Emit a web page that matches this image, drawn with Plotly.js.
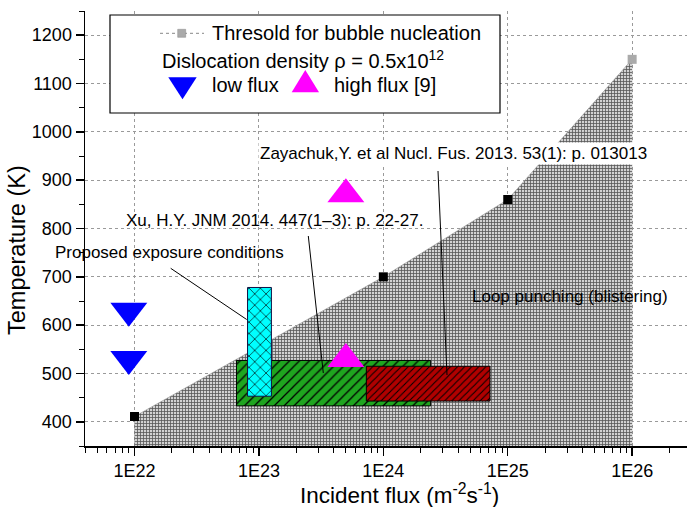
<!DOCTYPE html>
<html>
<head>
<meta charset="utf-8">
<script src="https://cdn.plot.ly/plotly-3.0.1.min.js"></script>
<style>
html,body{margin:0;padding:0;overflow:hidden;background:#fff;}
#chart{width:689px;height:507px;}
</style>
</head>
<body>
<div id="chart"></div>
<script>
// ---------- data ----------
const thresholdFlux = [1e22, 1e24, 1e25, 1e26];
const thresholdTemp = [411, 700, 860, 1150];

const lowFluxFlux = [9e21, 9e21];
const lowFluxTemp = [630, 530];

const highFluxFlux = [5e23, 5e23];
const highFluxTemp = [871, 530];

const proposedFlux = [8.1e22, 1.26e23];
const proposedTemp = [453, 678];

const xuFlux = [6.6e22, 2.4e24];
const xuTemp = [433, 527];

const zayachukFlux = [7.3e23, 7.2e24];
const zayachukTemp = [443, 515];

const tickFlux = [1e22, 1e23, 1e24, 1e25, 1e26];
const tickFluxLabels = ['1E22', '1E23', '1E24', '1E25', '1E26'];

// ---------- helpers ----------
const rectX = f => [f[0], f[1], f[1], f[0], f[0]];
const rectY = t => [t[0], t[0], t[1], t[1], t[0]];
// plot area pixel -> paper (decorations only)
const L = 85, T = 11, W = 604, H = 435;
const PX = px => (px - L) / W;
const PY = py => (T + H - py) / H;

const FONT = 'Liberation Sans, Arial, sans-serif';

const traces = [
  {
    x: thresholdFlux, y: thresholdTemp,
    mode: 'lines+markers', fill: 'tozeroy',
    fillcolor: 'rgba(0,0,0,0)',
    fillpattern: {shape: '+', fgcolor: '#555', bgcolor: 'rgba(205,205,205,0.9)', size: 3, solidity: 0.45},
    line: {color: '#999', width: 0.6},
    marker: {symbol: 'square', size: 9, color: ['#000', '#000', '#000', '#aaa']},
    showlegend: false, hoverinfo: 'skip'
  },
  {
    x: rectX(xuFlux), y: rectY(xuTemp), mode: 'lines', fill: 'toself',
    fillcolor: '#1fa51f',
    fillpattern: {shape: '/', fgcolor: '#000', bgcolor: '#1fa51f', size: 7, solidity: 0.18},
    line: {color: '#000', width: 1}, showlegend: false
  },
  {
    x: rectX(proposedFlux), y: rectY(proposedTemp), mode: 'lines', fill: 'toself',
    fillcolor: '#00ffff',
    fillpattern: {shape: 'x', fgcolor: '#000', bgcolor: '#00ffff', size: 8, solidity: 0.15},
    line: {color: '#114', width: 1}, showlegend: false
  },
  {
    x: rectX(zayachukFlux), y: rectY(zayachukTemp), mode: 'lines', fill: 'toself',
    fillcolor: '#b00000',
    fillpattern: {shape: '/', fgcolor: '#000', bgcolor: '#b00000', size: 5, solidity: 0.2},
    line: {color: '#000', width: 1}, showlegend: false
  },
  {
    x: lowFluxFlux, y: lowFluxTemp, mode: 'markers',
    marker: {symbol: 'triangle-down', size: 32, color: '#0000ff'},
    showlegend: false
  },
  {
    x: highFluxFlux, y: highFluxTemp, mode: 'markers',
    marker: {symbol: 'triangle-up', size: 32, color: '#ff00ff'},
    showlegend: false
  }
];

const xRange = [21.602, 26.457];
const yRange = [350, 1250];

const annotations = [
  // axis titles
  {xref: 'paper', yref: 'paper', x: PX(399), y: PY(493.5), text: 'Incident flux (m<sup>-2</sup>s<sup>-1</sup>)',
   showarrow: false, font: {family: FONT, size: 22.5, color: '#000'}, xanchor: 'center', yanchor: 'middle', borderpad: 0},
  {xref: 'paper', yref: 'paper', x: PX(17), y: PY(250), text: 'Temperature (K)', textangle: -90,
   showarrow: false, font: {family: FONT, size: 23.5, color: '#000'}, xanchor: 'center', yanchor: 'middle'},
  // plot notes
  {xref: 'paper', yref: 'paper', x: PX(453.8), y: PY(154), text: 'Zayachuk,Y. et al Nucl. Fus. 2013. 53(1): p. 013013',
   showarrow: false, font: {family: FONT, size: 17, color: '#000'}, bgcolor: '#fff', borderpad: 1, xanchor: 'center', yanchor: 'middle'},
  {xref: 'paper', yref: 'paper', x: PX(274), y: PY(221), text: 'Xu, H.Y. JNM 2014. 447(1–3): p. 22-27.',
   showarrow: false, font: {family: FONT, size: 17, color: '#000'}, xanchor: 'center', yanchor: 'middle'},
  {xref: 'paper', yref: 'paper', x: PX(169), y: PY(252.5), text: 'Proposed exposure conditions',
   showarrow: false, font: {family: FONT, size: 17, color: '#000'}, xanchor: 'center', yanchor: 'middle'},
  {xref: 'paper', yref: 'paper', x: PX(570), y: PY(296), text: 'Loop punching (blistering)',
   showarrow: false, font: {family: FONT, size: 17, color: '#000'}, xanchor: 'center', yanchor: 'middle'},
  // legend texts
  {xref: 'paper', yref: 'paper', x: PX(210), y: PY(33), text: 'Thresold for bubble nucleation',
   showarrow: false, font: {family: FONT, size: 20, color: '#000'}, xanchor: 'left', yanchor: 'middle'},
  {xref: 'paper', yref: 'paper', x: PX(160), y: PY(59), text: 'Dislocation density ρ = 0.5x10<sup>12</sup>',
   showarrow: false, font: {family: FONT, size: 20, color: '#000'}, xanchor: 'left', yanchor: 'middle'},
  {xref: 'paper', yref: 'paper', x: PX(210), y: PY(85), text: 'low flux',
   showarrow: false, font: {family: FONT, size: 20, color: '#000'}, xanchor: 'left', yanchor: 'middle'},
  {xref: 'paper', yref: 'paper', x: PX(332), y: PY(85), text: 'high flux [9]',
   showarrow: false, font: {family: FONT, size: 20, color: '#000'}, xanchor: 'left', yanchor: 'middle'}
];

const tri = pts => 'M' + pts.map(p => PX(p[0]) + ',' + PY(p[1])).join(' L') + ' Z';

const shapes = [
  // leader lines
  {type: 'line', xref: 'paper', yref: 'paper', x0: PX(438), y0: PY(171), x1: PX(447), y1: PY(375), line: {color: '#000', width: 1}, layer: 'above'},
  {type: 'line', xref: 'paper', yref: 'paper', x0: PX(308.3), y0: PY(236), x1: PX(323.3), y1: PY(373), line: {color: '#000', width: 1}, layer: 'above'},
  {type: 'line', xref: 'paper', yref: 'paper', x0: PX(170.7), y0: PY(268.3), x1: PX(246.7), y1: PY(319.5), line: {color: '#000', width: 1}, layer: 'above'},
  // legend box
  {type: 'rect', xref: 'paper', yref: 'paper', x0: PX(110), x1: PX(500), y0: PY(15), y1: PY(113), fillcolor: '#fff', line: {color: '#000', width: 1.2}, layer: 'above'},
  // legend keys
  {type: 'line', xref: 'paper', yref: 'paper', x0: PX(160), x1: PX(204), y0: PY(33.3), y1: PY(33.3), line: {color: '#888', width: 1, dash: 'dot'}, layer: 'above'},
  {type: 'rect', xref: 'paper', yref: 'paper', x0: PX(177.7), x1: PX(185.7), y0: PY(29.3), y1: PY(37.3), fillcolor: '#aaa', line: {color: '#888', width: 0.5}, layer: 'above'},
  {type: 'path', xref: 'paper', yref: 'paper', path: tri([[168.3, 77.3], [196.7, 77.3], [182.5, 99.3]]), fillcolor: '#0000ff', line: {width: 0}, layer: 'above'},
  {type: 'path', xref: 'paper', yref: 'paper', path: tri([[291.7, 92.3], [319, 92.3], [305.3, 70]]), fillcolor: '#ff00ff', line: {width: 0}, layer: 'above'}
];

const axisCommon = {
  showline: true, linecolor: '#000', linewidth: 1.5,
  tickcolor: '#000', tickwidth: 1.5, zeroline: false
};

const layout = {
  width: 689, height: 507,
  margin: {l: L, r: 689 - L - W, t: T, b: 507 - T - H},
  paper_bgcolor: '#fff', plot_bgcolor: '#fff',
  font: {family: FONT, color: '#000'},
  showlegend: false,
  xaxis: Object.assign({}, axisCommon, {
    type: 'log', range: xRange,
    tickmode: 'array', tickvals: tickFlux, ticktext: tickFluxLabels,
    ticks: 'outside', ticklen: 8,
    minor: {ticks: 'outside', ticklen: 5, tickwidth: 1, tickcolor: '#000', dtick: 'D1', showgrid: false},
    showgrid: true, gridcolor: '#9a9a9a', gridwidth: 1, griddash: '3px,3px',
    tickfont: {family: FONT, size: 18, color: '#000'}
  }),
  yaxis: Object.assign({}, axisCommon, {
    range: yRange, tick0: 0, dtick: 100,
    ticks: 'outside', ticklen: 8,
    minor: {ticks: 'outside', ticklen: 5, tickwidth: 1, tickcolor: '#000', dtick: 50, showgrid: false},
    showgrid: true, gridcolor: '#9a9a9a', gridwidth: 1, griddash: '3px,3px',
    tickfont: {family: FONT, size: 18, color: '#000'}
  }),
  xaxis2: Object.assign({}, axisCommon, {
    type: 'log', range: xRange, overlaying: 'x', side: 'top', anchor: 'y',
    tickmode: 'array', tickvals: tickFlux, ticks: 'inside', ticklen: 7,
    minor: {ticks: 'inside', ticklen: 4, tickwidth: 1, tickcolor: '#000', dtick: 'D1', showgrid: false},
    showticklabels: false, showgrid: false
  }),
  yaxis2: Object.assign({}, axisCommon, {
    range: yRange, overlaying: 'y', side: 'right', anchor: 'x',
    tick0: 0, dtick: 100, ticks: 'inside', ticklen: 7,
    minor: {ticks: 'inside', ticklen: 4, tickwidth: 1, tickcolor: '#000', dtick: 50, showgrid: false},
    showticklabels: false, showgrid: false
  }),
  annotations: annotations,
  shapes: shapes
};

Plotly.newPlot('chart', traces, layout, {displayModeBar: false, staticPlot: true});
</script>
</body>
</html>
